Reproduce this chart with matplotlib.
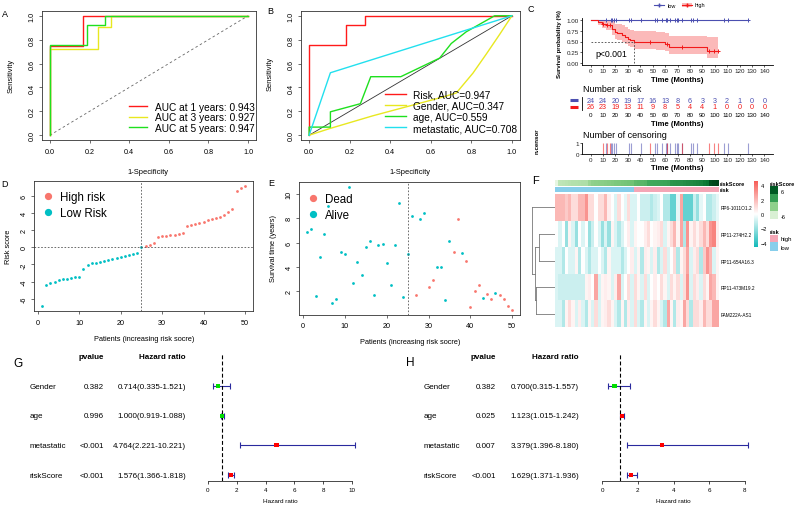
import numpy as np
import matplotlib
matplotlib.use("Agg")
import matplotlib.pyplot as plt
from matplotlib.lines import Line2D
from matplotlib.patches import Patch
from matplotlib.colors import LinearSegmentedColormap, ListedColormap, Normalize
from matplotlib.transforms import blended_transform_factory

plt.rcParams['font.family'] = ['Liberation Sans', 'DejaVu Sans']

# ---------------- data ----------------
# A: time dependent ROC
roc1_fpr = [0, 0, 0.169, 0.169, 1]
roc1_tpr = [0, 0.744, 0.744, 1, 1]
roc3_fpr = [0, 0, 0.245, 0.245, 0.31, 0.31, 1]
roc3_tpr = [0, 0.72, 0.72, 0.905, 0.905, 1, 1]
roc5_fpr = [0, 0, 0.185, 0.185, 0.28, 0.28, 1]
roc5_tpr = [0, 0.752, 0.752, 0.922, 0.922, 1, 1]
roc_years = [1, 3, 5]
roc_auc = [0.943, 0.927, 0.947]

# B: ROC of clinical variables
risk_fpr = [0, 0, 0.184, 0.184, 0.277, 0.277, 1]
risk_tpr = [0, 0.755, 0.755, 0.921, 0.921, 1, 1]
gender_fpr = [0, 0.1, 0.315, 0.66, 0.726, 0.808, 0.874, 0.94, 1]
gender_tpr = [0, 0.055, 0.163, 0.32, 0.354, 0.52, 0.68, 0.845, 1]
age_fpr = [0, 0, 0.105, 0.105, 0.253, 0.304, 0.452, 0.644, 0.701, 0.775, 0.915, 1]
age_tpr = [0, 0.068, 0.068, 0.196, 0.264, 0.49, 0.49, 0.646, 0.768, 0.866, 1, 1]
meta_fpr = [0, 0.105, 1]
meta_tpr = [0, 0.523, 1]
clin_names = ["Risk", "Gender", "age", "metastatic"]
clin_auc = [0.947, 0.347, 0.559, 0.708]

# C: Kaplan-Meier
low_t = [0, 127]
low_s = [1.0, 1.0]
low_cens = [12.1, 16, 17.5, 18.8, 20.2, 31, 32.8, 40.4, 51.7, 53.3, 57.9, 60.5,
            61.9, 64, 67.9, 69.2, 70.5, 74, 81, 82.7, 85.4, 107.7, 110.9, 126.5]
high_t = [0, 6, 9, 12, 17.5, 20, 21.5, 25, 27.5, 30, 31.5, 35, 53, 60, 63, 94, 103]
high_s = [1, 0.96, 0.92, 0.88, 0.80, 0.72, 0.69, 0.66, 0.61, 0.57, 0.54, 0.50, 0.48, 0.45, 0.36, 0.27, 0.27]
high_lo = [1, 0.88, 0.82, 0.76, 0.66, 0.56, 0.53, 0.50, 0.44, 0.40, 0.37, 0.33, 0.31, 0.28, 0.21, 0.12, 0.12]
high_hi = [1, 1.0, 1.0, 1.0, 0.97, 0.92, 0.90, 0.88, 0.84, 0.80, 0.78, 0.75, 0.73, 0.71, 0.63, 0.60, 0.60]
high_cens = [10, 13.2, 15.5, 47.5, 61.5, 73.5, 95.5, 99.5, 102.3]
risk_times = list(range(0, 141, 10))
low_at_risk = [24, 24, 20, 19, 17, 16, 13, 8, 6, 3, 3, 2, 1, 0, 0]
high_at_risk = [26, 23, 19, 13, 11, 9, 8, 5, 4, 4, 1, 0, 0, 0, 0]

# D: risk score curve
risk_score = [-6.86, -4.34, -4.2, -4.05, -3.85, -3.72, -3.65, -3.58, -3.5, -3.42,
              -2.52, -2.02, -1.86, -1.82, -1.74, -1.63, -1.51, -1.36, -1.2, -1.12,
              -1.05, -0.93, -0.81, -0.7, 0.02, 0.19, 0.31, 0.46, 1.24, 1.28,
              1.32, 1.40, 1.47, 1.55, 1.70, 2.48, 2.56, 2.67, 2.79, 2.95,
              3.18, 3.26, 3.41, 3.57, 3.76, 4.15, 4.5, 6.51, 6.86, 7.16]
risk_cut = 25

# E: survival status
surv_time = [6.85, 7.15, 1.64, 4.79, 6.71, 8.99, 1.01, 1.37, 5.26, 5.04,
             10.55, 2.68, 4.41, 3.32, 5.64, 6.16, 1.70, 5.78, 5.89, 4.30,
             2.55, 5.78, 9.23, 1.51, 5.10, 8.22, 1.73, 7.95, 8.47, 2.33,
             2.90, 4.00, 4.00, 1.26, 6.16, 5.21, 7.92, 5.12, 4.47, 0.74,
             2.05, 2.52, 1.48, 1.78, 1.40, 1.84, 1.67, 1.37, 0.79, 0.47]
dead = [0, 0, 0, 0, 0, 0, 0, 0, 0, 0, 0, 0, 0, 0, 0, 0, 0, 0, 0, 0, 0, 0, 0, 0, 0,
        0, 1, 0, 0, 1, 1, 0, 0, 0, 0, 1, 1, 0, 1, 1, 1, 1, 0, 1, 1, 0, 1, 1, 1, 1]

# F: heatmap of 5 lncRNAs
genes = ["RP6-1011O1.2", "RP11-274H2.2", "RP11-654A16.3", "RP11-473M19.2", "FAM222A-AS1"]
expr_1 = [2, 2, 2, 1.5, 2, 1, 1, 2, 2, 3, 1, 1, 0, 1, 1, 2, 0.5, 0, -0.7, 1,
          0, -0.5, 1, -0.7, -0.7, 0, -1, -1, -1, -1.5, -1, -0.7, 0, -1.5, -1.5, -3, -3, -0.5, 2.5, -3,
          -3, -3, -1, -2, -0.5, 0, -1.5, -1.5, -1, -0.5]
expr_2 = [0, -0.7, 0, -2, 0.3, -0.7, -2, 0, -0.7, 0, -2, -1, 0, -0.7, -2, -0.7, -2, 0.3, -0.7, -1.5,
          -0.7, 0, 0.5, -0.7, 0.3, 0, 0, 0.5, 1, 0, 0.3, 0.5, 1, -0.7, 0.3, 1, 2, 0.3, 2.5, -1.5,
          3, 0.3, 1, 0.3, 1, 2, 1, 3, 3.5, 0.5]
expr_3 = [-0.7, -0.7, -1.5, 0, -0.7, -0.7, 0.3, -1.5, 0, -0.7, -1.5, -0.7, -0.7, 0, -0.7, -1.5, 0.3, -0.7, -0.7, -0.7,
          -1.5, -0.7, 0, 0.5, -0.7, 0.3, -1.5, 0.5, 0.3, -0.7, 0.5, -1.5, -0.7, 1, -0.7, 0, 1, -1.5, 0.3, 1,
          2.5, -0.7, 0.5, 1, -1.5, 1.5, 3, 2, -0.7, 0.3]
expr_4 = [-0.7, -1, -1, -1, -1, -1, -1, -1, -1, 0.3, 0.5, 0, 2.5, -0.7, 0.3, 0.5, 0.3, -0.7, 0.5, 2.5,
          -0.7, 0, 1, -0.7, 1, 0.3, -0.7, 1, -0.7, 0, 0.5, 0, 1, 0.3, -0.7, 1, 0.3, 1, -0.7, 1,
          3, -0.7, 1, 0.5, -0.7, 1, 0.3, 2.5, 2, 0.3]
expr_5 = [-0.7, -0.7, -1.5, 0.3, 1, 0.3, -0.7, 0.5, -0.7, -1.5, 0.3, -0.7, 1, -0.7, 0.3, 0.5, 1, 0.3, -0.7, -1.5,
          0.3, -1.5, 0.5, -0.7, 1, -0.7, -1.5, 0.3, -0.7, 0.3, 1, 0.3, -0.7, -1.5, 2.5, 0.3, -1.5, 0.5, 0.3, 2.5,
          1, -1.5, 1, 1, 0.5, 2, 1, 1, 2.5, 2.5]
# row clustering: (left, right, height); leaves 0-4, new nodes from 5
row_merges = [(1, 2, 1.57), (3, 4, 1.90), (5, 6, 2.05), (0, 7, 2.33)]

# G / H: univariate and multivariate Cox
cox_vars = ["Gender", "age", "metastatic", "riskScore"]
uni_p = ["0.382", "0.996", "<0.001", "<0.001"]
uni_hr = [0.714, 1.000, 4.764, 1.576]
uni_lo = [0.335, 0.919, 2.221, 1.366]
uni_hi = [1.521, 1.088, 10.221, 1.818]
multi_p = ["0.382", "0.025", "0.007", "<0.001"]
multi_hr = [0.700, 1.123, 3.379, 1.629]
multi_lo = [0.315, 1.015, 1.396, 1.371]
multi_hi = [1.557, 1.242, 8.180, 1.936]

# ---------------- figure helpers ----------------
W, H = 796, 506
fig = plt.figure(figsize=(W / 100, H / 100), dpi=100)


def px_ax(x0, y0, x1, y1):
    return fig.add_axes([x0 / W, 1 - y1 / H, (x1 - x0) / W, (y1 - y0) / H])


def ftext(x, y, s, **kw):
    kw.setdefault("ha", "center")
    kw.setdefault("va", "center")
    return fig.text(x / W, 1 - y / H, s, **kw)


def r_axes(ax, xt, yt, xfmt, yfmt):
    ax.set_xticks(xt, labels=[xfmt.format(v) for v in xt])
    ax.set_yticks(yt, labels=[yfmt.format(v) for v in yt], rotation=90, va="center")
    ax.tick_params(length=2.5, width=0.5, labelsize=5.2, color="#333333")
    ax.tick_params(axis="x", pad=3.0)
    ax.tick_params(axis="y", pad=2.2)
    for s in ax.spines.values():
        s.set_linewidth(0.6)
        s.set_color("#333333")


SALMON = "#F8766D"
TEAL = "#00BFC4"
KM_BLUE = "#4B4FB0"
KM_RED = "#F21A1A"

# ---------------- A ----------------
axA = px_ax(42, 12, 256, 141)
axA.plot([0, 1], [0, 1], color="#666666", lw=0.6, ls=(0, (3, 3)))
for fpr, tpr, col, yr, auc in zip([roc1_fpr, roc3_fpr, roc5_fpr], [roc1_tpr, roc3_tpr, roc5_tpr],
                                  ["#FF1A1A", "#E8E820", "#1EE01E"], roc_years, roc_auc):
    axA.plot(fpr, tpr, color=col, lw=1.0, label=f"AUC at {yr} years: {auc:.3f}")
axA.set_xlim(-0.04, 1.04)
axA.set_ylim(-0.04, 1.04)
r_axes(axA, np.round(np.arange(0, 1.01, 0.2), 1), np.round(np.arange(0, 1.01, 0.2), 1), "{:.1f}", "{:.1f}")
axA.legend(loc="lower right", bbox_to_anchor=(255 / W, 1 - 134 / H), bbox_transform=fig.transFigure,
           frameon=False, fontsize=7.3, handlelength=1.8, handletextpad=0.8, labelspacing=0.07,
           borderpad=0, borderaxespad=0)
ftext(148, 173, "1-Specificity", fontsize=5.4)
ftext(11.5, 76, "Sensitivity", fontsize=5.4, rotation=90)
ftext(4.5, 14.5, "A", fontsize=6.5)

# ---------------- B ----------------
axB = px_ax(301, 12, 520, 141)
axB.plot([0, 1], [0, 1], color="#333333", lw=0.6)
for fpr, tpr, col, nm, auc in zip([risk_fpr, gender_fpr, age_fpr, meta_fpr],
                                  [risk_tpr, gender_tpr, age_tpr, meta_tpr],
                                  ["#FF1A1A", "#E8E820", "#1EE01E", "#22E0EE"], clin_names, clin_auc):
    axB.plot(fpr, tpr, color=col, lw=1.0, label=f"{nm}, AUC={auc:.3f}")
axB.set_xlim(-0.04, 1.04)
axB.set_ylim(-0.04, 1.04)
r_axes(axB, np.round(np.arange(0, 1.01, 0.2), 1), np.round(np.arange(0, 1.01, 0.2), 1), "{:.1f}", "{:.1f}")
axB.legend(loc="lower right", bbox_to_anchor=(517.5 / W, 1 - 134 / H), bbox_transform=fig.transFigure,
           frameon=False, fontsize=7.3, handlelength=2.0, handletextpad=0.75, labelspacing=0.1,
           borderpad=0, borderaxespad=0)
ftext(410, 173, "1-Specificity", fontsize=5.4)
ftext(270, 74, "Sensitivity", fontsize=5.4, rotation=90)
ftext(270.5, 12, "B", fontsize=6.5)

# ---------------- C ----------------
def gg_axes(ax):
    for s in ["top", "right"]:
        ax.spines[s].set_visible(False)
    for s in ["left", "bottom"]:
        ax.spines[s].set_linewidth(0.6)
    ax.tick_params(length=1.5, width=0.5, labelsize=4.5, pad=0.6, colors="#222222")


axC = px_ax(582, 19, 773, 66)
axC.fill_between(high_t, high_lo, high_hi, step="post", color=KM_RED, alpha=0.3, lw=0)
axC.step(low_t, low_s, where="post", color=KM_BLUE, lw=0.8)
axC.step(high_t, high_s, where="post", color=KM_RED, lw=0.8)
low_c_s = [low_s[np.searchsorted(low_t, c, side="right") - 1] for c in low_cens]
high_c_s = [high_s[np.searchsorted(high_t, c, side="right") - 1] for c in high_cens]
axC.plot(low_cens, low_c_s, ls="", marker="+", ms=3, mew=0.7, color=KM_BLUE)
axC.plot(high_cens, high_c_s, ls="", marker="+", ms=3, mew=0.7, color=KM_RED)
med_t = high_t[next(i for i, s in enumerate(high_s) if s <= 0.5)]
axC.plot([0, med_t], [0.5, 0.5], color="#444444", lw=0.6, ls=(0, (2, 2)))
axC.plot([med_t, med_t], [0, 0.5], color="#444444", lw=0.6, ls=(0, (2, 2)))
axC.text(3.5, 0.21, "p<0.001", fontsize=6.3, va="center", ha="left")
axC.set_xlim(-7, 147)
axC.set_ylim(-0.05, 1.05)
axC.set_xticks(risk_times)
axC.set_yticks([0, 0.25, 0.5, 0.75, 1.0], labels=["0.00", "0.25", "0.50", "0.75", "1.00"])
gg_axes(axC)
ftext(677.5, 80, "Time (Months)", fontsize=5.5, fontweight="bold")
ftext(560, 44, "Survival probability (%)", fontsize=4.4, fontweight="bold", rotation=90)
h_low = Line2D([], [], color=KM_BLUE, lw=0.8, marker="+", ms=3)
h_high = (Patch(facecolor=KM_RED, alpha=0.3, lw=0), Line2D([], [], color=KM_RED, lw=0.8, marker="+", ms=3))
fig.legend([h_low, h_high], ["low", "high"], loc="center", bbox_to_anchor=(680 / W, 1 - 6 / H),
           ncol=2, frameon=False, fontsize=4, handlelength=1.8, columnspacing=1.2, handletextpad=0.5)
ftext(531, 10, "C", fontsize=6.5)

# risk table
axT = px_ax(582, 98, 773, 111)
for t, nl, nh in zip(risk_times, low_at_risk, high_at_risk):
    axT.text(t, 1, str(nl), color=KM_BLUE, fontsize=5.2, ha="center", va="center")
    axT.text(t, 0, str(nh), color=KM_RED, fontsize=5.2, ha="center", va="center")
axT.set_xlim(-7, 147)
axT.set_ylim(-0.5, 1.5)
axT.set_xticks(risk_times)
axT.set_yticks([])
# strata keys drawn as short coloured bars left of the table
tr_key = blended_transform_factory(fig.transFigure, axT.transData)
for row, col in [(1, KM_BLUE), (0, KM_RED)]:
    axT.plot([570 / W, 578 / W], [row, row], color=col, lw=2.2, transform=tr_key,
             clip_on=False, solid_capstyle="butt")
for s in ["top", "right", "bottom"]:
    axT.spines[s].set_visible(False)
axT.spines["left"].set_linewidth(0.6)
axT.tick_params(axis="x", length=0, labelsize=4.5, pad=1.2)
ftext(583, 90, "Number at risk", fontsize=6.4, ha="left")
ftext(677.5, 124, "Time (Months)", fontsize=5.5, fontweight="bold")

# censoring
axN = px_ax(582, 143.5, 773, 155.2)
axN.vlines(low_cens, 0, 1, color=KM_BLUE, lw=0.8, alpha=0.55)
axN.vlines(high_cens, 0, 1, color=KM_RED, lw=0.8, alpha=0.55)
axN.set_xlim(-7, 147)
axN.set_ylim(-0.05, 1.05)
axN.set_xticks(risk_times)
axN.set_yticks([0, 1])
gg_axes(axN)
ftext(583, 136, "Number of censoring", fontsize=6.5, ha="left")
ftext(677.5, 169, "Time (Months)", fontsize=5.5, fontweight="bold")
ftext(537, 141, "n.censor", fontsize=4.4, fontweight="bold", rotation=90)

# ---------------- D ----------------
pat = np.arange(1, len(risk_score) + 1)
rs = np.array(risk_score)
is_low = pat <= risk_cut
axD = px_ax(34, 182, 253, 312)
axD.scatter(pat[~is_low], rs[~is_low], s=4, color=SALMON, lw=0)
axD.scatter(pat[is_low], rs[is_low], s=4, color=TEAL, lw=0)
axD.axvline(risk_cut, color="#555555", lw=0.6, ls=(0, (2, 2)))
axD.axhline(0, color="#555555", lw=0.6, ls=(0, (2, 2)))
axD.set_xlim(-0.96, 51.96)
axD.set_ylim(-7.42, 7.72)
r_axes(axD, list(range(0, 51, 10)), list(range(-6, 7, 2)), "{}", "{}")
hd = [Line2D([], [], ls="", marker="o", ms=4.2, color=SALMON),
      Line2D([], [], ls="", marker="o", ms=4.2, color=TEAL)]
axD.legend(hd, ["High risk", "Low Risk"], loc="upper left", bbox_to_anchor=(42 / W, 1 - 192 / H),
           bbox_transform=fig.transFigure, frameon=False, fontsize=8.3, handlelength=1.0,
           handletextpad=0.57, labelspacing=0.38, borderpad=0, borderaxespad=0)
ftext(144.5, 339.3, "Patients (increasing risk socre)", fontsize=5.3)
ftext(8.5, 247, "Risk score", fontsize=5.3, rotation=90)
ftext(4.5, 184.5, "D", fontsize=6.5)

# ---------------- E ----------------
st = np.array(surv_time)
dd = np.array(dead) == 1
axE = px_ax(299, 183.4, 520.4, 315.8)
axE.scatter(pat[~dd], st[~dd], s=4, color=TEAL, lw=0)
axE.scatter(pat[dd], st[dd], s=4, color=SALMON, lw=0)
axE.axvline(risk_cut, color="#555555", lw=0.6, ls=(0, (2, 2)))
axE.set_xlim(-0.96, 51.96)
axE.set_ylim(0.07, 10.95)
r_axes(axE, list(range(0, 51, 10)), list(range(2, 11, 2)), "{}", "{}")
he = [Line2D([], [], ls="", marker="o", ms=4.2, color=SALMON),
      Line2D([], [], ls="", marker="o", ms=4.2, color=TEAL)]
axE.legend(he, ["Dead", "Alive"], loc="upper left", bbox_to_anchor=(307 / W, 1 - 194 / H),
           bbox_transform=fig.transFigure, frameon=False, fontsize=8.3, handlelength=1.0,
           handletextpad=0.57, labelspacing=0.38, borderpad=0, borderaxespad=0)
ftext(410.5, 342.3, "Patients (increasing risk socre)", fontsize=5.3)
ftext(273.3, 248, "Survival time (years)", fontsize=5.3, rotation=90)
ftext(271, 183.5, "E", fontsize=6.5)

# ---------------- F ----------------
heat = np.array([expr_1, expr_2, expr_3, expr_4, expr_5])
heat_cmap = LinearSegmentedColormap.from_list("hm", ["#12B9B9", "#FFFFFF", "#F65D57"])
axF = px_ax(555, 195, 719, 328)
im = axF.imshow(heat, cmap=heat_cmap, vmin=-4.6, vmax=4.6, aspect="auto", interpolation="nearest")
axF.set_xticks([])
axF.yaxis.tick_right()
axF.set_yticks(range(len(genes)), labels=genes, fontsize=3.4)
axF.tick_params(length=0, pad=1.5)
for s in axF.spines.values():
    s.set_visible(False)

# annotations
base_greens = plt.get_cmap("Greens")
rs_cmap = LinearSegmentedColormap.from_list("rs", [base_greens(v) for v in np.linspace(0.12, 1.0, 32)])
rs_norm = Normalize(min(risk_score), max(risk_score))
axRS = px_ax(555, 181, 719, 187)
axRS.imshow(rs[None, :], cmap=rs_cmap, norm=rs_norm, aspect="auto", interpolation="nearest")
n_low_heat = low_at_risk[0]
grp = (np.arange(heat.shape[1]) >= n_low_heat).astype(int)
LOW_COL, HIGH_COL = "#87CEEB", "#F4A6B6"
axRK = px_ax(555, 188, 719, 193)
axRK.imshow(grp[None, :], cmap=ListedColormap([LOW_COL, HIGH_COL]), vmin=0, vmax=1,
            aspect="auto", interpolation="nearest")
for a in (axRS, axRK):
    a.set_axis_off()
ftext(720, 184.5, "riskScore", fontsize=4, fontweight="bold", ha="left")
ftext(720, 190.5, "risk", fontsize=4, fontweight="bold", ha="left")

# dendrogram
axDen = px_ax(530, 195, 555, 328)
ypos = {i: float(i) for i in range(len(genes))}
hgt = {i: 0.0 for i in range(len(genes))}
for k, (a, b, h) in enumerate(row_merges):
    for c in (a, b):
        axDen.plot([hgt[c], h], [ypos[c], ypos[c]], color="#777777", lw=0.6)
    axDen.plot([h, h], [ypos[a], ypos[b]], color="#777777", lw=0.6)
    ypos[len(genes) + k] = (ypos[a] + ypos[b]) / 2
    hgt[len(genes) + k] = h
axDen.set_xlim(2.5, 0)
axDen.set_ylim(len(genes) - 0.5, -0.5)
axDen.set_axis_off()

# heatmap colour key
axCB = px_ax(754, 182, 758, 248)
cb = fig.colorbar(im, cax=axCB, ticks=[-4, -2, 0, 2, 4])
cb.outline.set_visible(False)
axCB.tick_params(length=0, labelsize=4, pad=2)

# riskScore key
ftext(770, 184, "riskScore", fontsize=4, fontweight="bold", ha="left")
axGL = px_ax(770, 187, 778, 220)
key_vals = np.array([6, 2, -2, -6])
axGL.imshow(key_vals[:, None], cmap=rs_cmap, norm=rs_norm, aspect="auto", interpolation="nearest")
axGL.set_axis_off()
ftext(781, 192.7, "6", fontsize=4, ha="left")
ftext(781, 218, "-6", fontsize=4, ha="left")

# risk key
ftext(770, 232, "risk", fontsize=4, fontweight="bold", ha="left")
axRL = px_ax(770, 236, 778, 252)
axRL.imshow(np.array([[1], [0]]), cmap=ListedColormap([LOW_COL, HIGH_COL]), vmin=0, vmax=1,
            aspect="auto", interpolation="nearest")
axRL.set_axis_off()
ftext(781, 240, "high", fontsize=4.3, ha="left")
ftext(781, 248, "low", fontsize=4.3, ha="left")
ftext(535.5, 181, "F", fontsize=8)


# ---------------- G / H ----------------
def forest(box, xlim, vmax, x_lab, x_p, x_hr, pv, hr, lo, hi):
    ax = px_ax(*box)
    hr = np.array(hr)
    lo = np.array(lo)
    hi = np.array(hi)
    rows = np.arange(1, len(hr) + 1)
    ax.errorbar(hr, rows, xerr=[hr - lo, hi - hr], fmt="none", ecolor="#2A2A9E",
                elinewidth=0.8, capsize=2.2, capthick=0.8)
    cols = ["#FF0000" if h > 1 else "#00DD00" for h in hr]
    ax.scatter(hr, rows, marker="s", s=9, c=cols, zorder=3, lw=0)
    ax.axvline(1, ymin=0, ymax=0.962, color="black", lw=0.8, ls=(0, (3.5, 2)))
    ax.set_xlim(*xlim)
    ax.set_ylim(4.2, -0.25)
    ax.set_xticks(range(0, vmax + 1, 2))
    ax.set_yticks([])
    for s in ["top", "right", "left"]:
        ax.spines[s].set_visible(False)
    ax.spines["bottom"].set_bounds(0, vmax)
    ax.spines["bottom"].set_linewidth(0.5)
    ax.tick_params(axis="x", length=2.5, width=0.5, labelsize=4.5, pad=1.5)
    tr = blended_transform_factory(fig.transFigure, ax.transData)
    kw = dict(transform=tr, va="center", fontsize=5.8, clip_on=False)
    ax.text(x_p / W, 0, "pvalue", ha="right", fontweight="bold", **kw)
    ax.text(x_hr / W, 0, "Hazard ratio", ha="right", fontweight="bold", **kw)
    for r, nm, p, h, l, u in zip(rows, cox_vars, pv, hr, lo, hi):
        ax.text(x_lab / W, r, nm, ha="left", **kw)
        ax.text(x_p / W, r, p, ha="right", **kw)
        ax.text(x_hr / W, r, f"{h:.3f}({l:.3f}-{u:.3f})", ha="right", **kw)
    x0 = box[0] + (0 - xlim[0]) / (xlim[1] - xlim[0]) * (box[2] - box[0])
    x1 = box[0] + (vmax - xlim[0]) / (xlim[1] - xlim[0]) * (box[2] - box[0])
    ftext((x0 + x1) / 2, 502, "Hazard ratio", fontsize=4.6)
    return ax


forest((200.8, 350, 360.6, 482), (-0.5, 10.6), 10, 30, 104, 186, uni_p, uni_hr, uni_lo, uni_hi)
forest((593.1, 350, 753.9, 482), (-0.5, 8.5), 8, 423.5, 496, 579, multi_p, multi_hr, multi_lo, multi_hi)
ftext(18.5, 364.5, "G", fontsize=8.5)
ftext(410, 363, "H", fontsize=8.5)

fig.savefig("out.png", dpi=100)
